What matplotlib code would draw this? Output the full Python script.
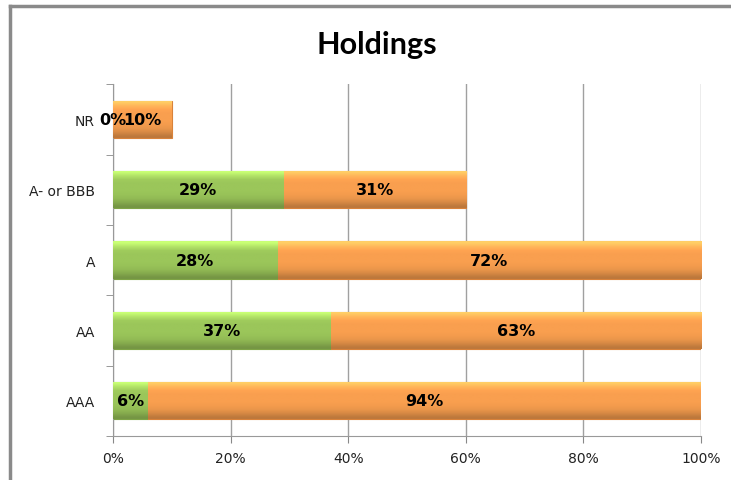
import numpy as np
import matplotlib.pyplot as plt
from matplotlib.colors import to_rgb

categorias = ["AAA", "AA", "A", "A- or BBB", "NR"]
verde = [6, 37, 28, 29, 0]
naranja = [94, 63, 72, 31, 10]
ticks_x = [0, 20, 40, 60, 80, 100]

COLOR_VERDE = "#9bc65a"
COLOR_NARANJA = "#f99f4f"


def sombrear(ax, barras, color):
    # degradado vertical para dar el relieve de las barras
    base = np.array(to_rgb(color))
    perfil = np.array([1.3, 1.15, 1.03, 1.0, 1.0, 1.0, 0.98, 0.94, 0.86, 0.76])
    franja = np.clip(base[None, :] * perfil[:, None], 0, 1)
    img = franja[:, None, :]
    for b in barras:
        if b.get_width() <= 0:
            continue
        x0, y0 = b.get_x(), b.get_y()
        x1, y1 = x0 + b.get_width(), y0 + b.get_height()
        im = ax.imshow(img, extent=(x0, x1, y0, y1), aspect="auto",
                       interpolation="bilinear", zorder=3)
        im.set_clip_path(b)


fig = plt.figure(figsize=(7.31, 4.81), dpi=100)
ax = fig.add_axes([0.1546, 0.0915, 0.959 - 0.1546, 0.823 - 0.0915])

y = np.arange(len(categorias))
alto = 0.53
b1 = ax.barh(y, verde, height=alto, color=COLOR_VERDE, edgecolor="#7fa446",
             linewidth=0.8, zorder=2)
b2 = ax.barh(y, naranja, left=verde, height=alto, color=COLOR_NARANJA,
             edgecolor="#d9823a", linewidth=0.8, zorder=2)
sombrear(ax, b1, COLOR_VERDE)
sombrear(ax, b2, COLOR_NARANJA)

# etiquetas de valor centradas en cada tramo
for i in range(len(categorias)):
    ax.text(verde[i] / 2, y[i], f"{verde[i]}%", ha="center", va="center",
            fontsize=11.5, fontweight="bold", color="black", zorder=5)
    ax.text(verde[i] + naranja[i] / 2, y[i], f"{naranja[i]}%", ha="center",
            va="center", fontsize=11.5, fontweight="bold", color="black", zorder=5)

ax.set_xlim(0, 100)
ax.set_ylim(-0.5, len(categorias) - 0.5)
ax.set_xticks(ticks_x)
ax.set_xticklabels([f"{t}%" for t in ticks_x], fontsize=10, color="#222222")
ax.set_yticks(y)
ax.set_yticklabels(categorias, fontsize=10, color="#222222")
ax.set_yticks(np.arange(len(categorias) + 1) - 0.5, minor=True)
ax.tick_params(axis="y", which="major", length=0, pad=13)
ax.tick_params(axis="y", which="minor", length=5, color="#888888")
ax.tick_params(axis="x", length=5, color="#888888", pad=6)

ax.grid(axis="x", color="#a0a0a0", linewidth=1, zorder=0)
ax.set_axisbelow(True)
for lado in ["top", "right"]:
    ax.spines[lado].set_visible(False)
for lado in ["left", "bottom"]:
    ax.spines[lado].set_color("#999999")

fig.text(0.516, 0.906, "Holdings", ha="center", va="center", fontsize=22,
         fontweight="bold", family="Lato")

# marco del gráfico
fig.add_artist(plt.Line2D([0.0137, 0.0137], [0, 0.985], color="#8a8a8a",
                          linewidth=2.5, transform=fig.transFigure))
fig.add_artist(plt.Line2D([0.0137, 1.0], [0.985, 0.985], color="#8a8a8a",
                          linewidth=2.5, transform=fig.transFigure))

fig.savefig("out.png", dpi=100)
